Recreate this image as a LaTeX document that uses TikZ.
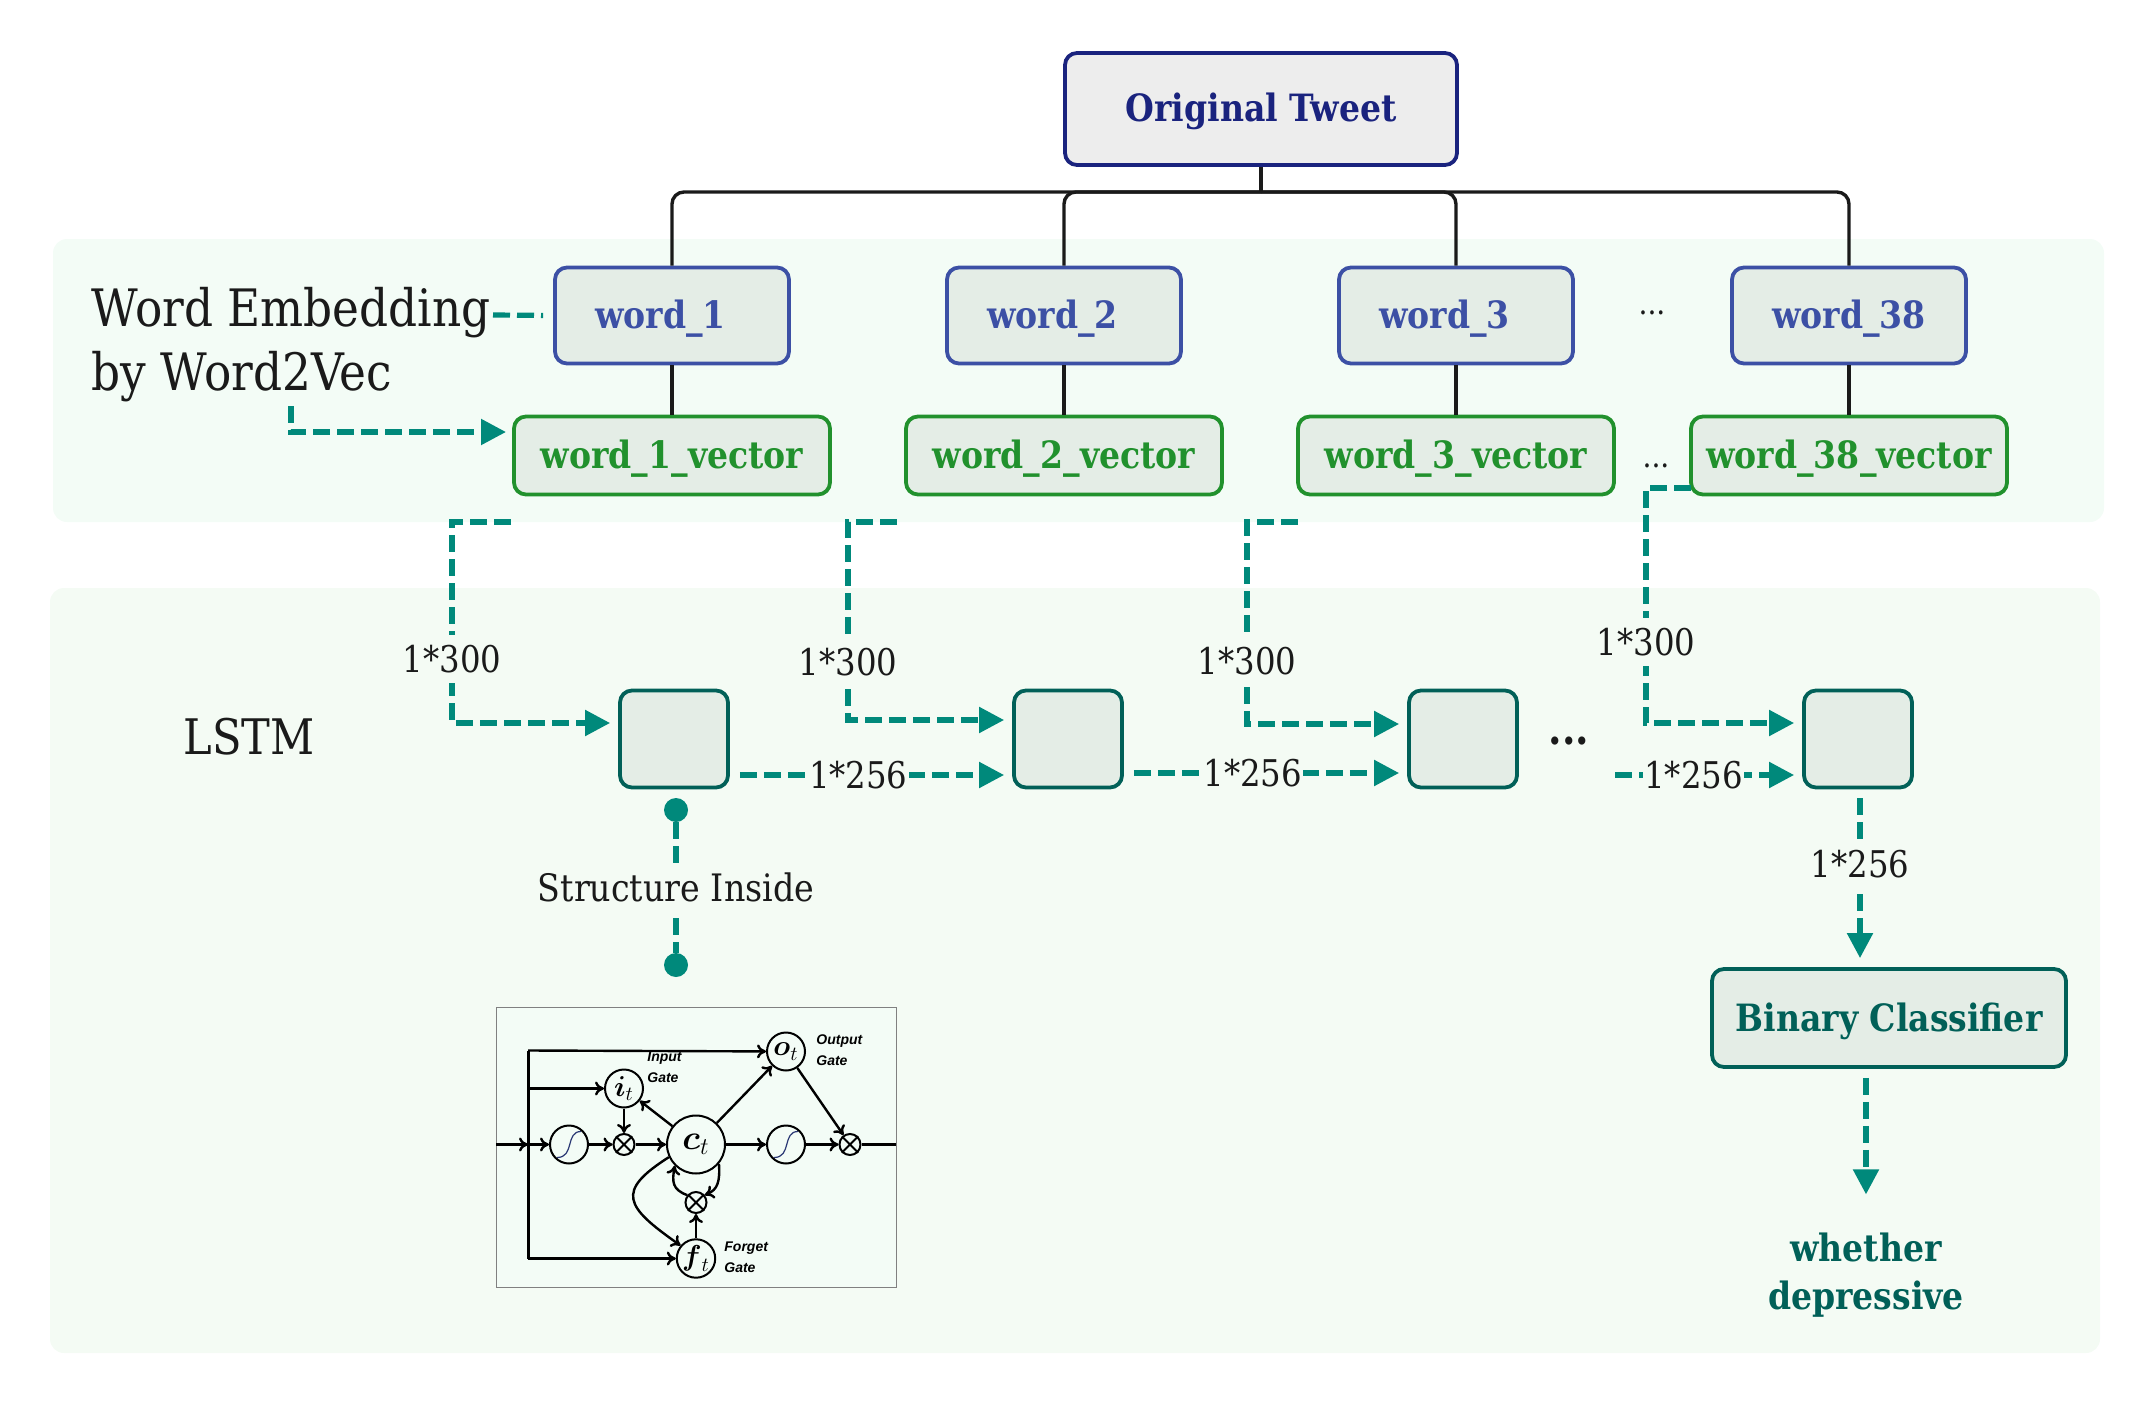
\documentclass[tikz,border=0pt]{standalone}
\usepackage{amsmath}
\usepackage{fontspec}
\setmainfont[FakeStretch=0.88]{DejaVu Serif}
\newfontfamily\gatefont{Liberation Sans}
\definecolor{colpanel}{RGB}{243,252,246}
\definecolor{colpanellow}{RGB}{244,251,244}
\definecolor{colbox}{RGB}{228,237,230}
\definecolor{colblue}{RGB}{60,80,165}
\definecolor{colgreen}{RGB}{33,145,45}
\definecolor{coldeep}{RGB}{1,96,88}
\definecolor{colnavy}{RGB}{26,35,126}
\definecolor{colflow}{RGB}{0,137,123}
\definecolor{coltext}{RGB}{26,26,26}
\usetikzlibrary{
	arrows.meta,
	positioning
}
\tikzset{
	>={Triangle[length=12.5pt,width=12.5pt]},
	panel/.style={fill=#1, rounded corners=7pt},
	boxtext/.style={text height=14pt, text depth=1pt, font=\bfseries\fontsize{18.8}{22}\selectfont},
	tweetnode/.style={draw=colnavy, fill=black!7, line width=1.9pt, rounded corners=6pt, minimum width=196pt, minimum height=56pt, text=colnavy, boxtext},
	wordnode/.style={draw=colblue, fill=colbox, line width=1.9pt, rounded corners=6pt, minimum width=117pt, minimum height=48pt, inner xsep=0pt, text width=77pt, align=left, text=colblue, boxtext},
	vectornode/.style={draw=colgreen, fill=colbox, line width=1.9pt, rounded corners=6pt, minimum width=158pt, minimum height=39pt, inner sep=0pt, text=colgreen, boxtext},
	cellnode/.style={draw=coldeep, fill=colbox, line width=1.9pt, rounded corners=6pt, minimum width=54pt, minimum height=48.5pt},
	classnode/.style={draw=coldeep, fill=colbox, line width=1.9pt, rounded corners=6pt, minimum width=177pt, minimum height=49pt, inner sep=0pt, text=coldeep, boxtext},
	treeline/.style={draw=coltext, line width=1.7pt},
	flowline/.style={draw=colflow, line width=2.6pt, dash pattern=on 8.5pt off 3.5pt},
	flowdot/.style={circle, fill=colflow, minimum size=12pt, inner sep=0pt},
	dimlabel/.style={fill=colpanellow, inner xsep=0.5pt, inner ysep=0pt, minimum height=24pt, text=coltext, font=\fontsize{18.4}{22}\selectfont},
	titlelabel/.style={text=coltext, inner sep=0pt, font=\fontsize{25.8}{32}\selectfont},
	dotslabel/.style={text=coltext, inner sep=0pt, font=\fontsize{16}{16}\selectfont},
	gatenode/.style={circle, draw=black, line width=1pt, minimum size=19pt, inner sep=0pt},
	timesnode/.style={circle, draw=black, line width=1pt, minimum size=10.5pt, inner sep=0pt},
	gateedge/.style={draw=black, line width=1.2pt, -{To[length=4.5pt,width=7pt]}},
	gatelabel/.style={anchor=west, inner sep=0pt, font=\gatefont\bfseries\itshape\fontsize{7}{8}\selectfont}
}
\begin{document}
\begin{tikzpicture}[x=0.5pt, y=-0.5pt]
	\useasboundingbox (0,0) rectangle (2154,1402);
	\fill[panel=colpanel] (53,239) rectangle (2104,522);
	\fill[panel=colpanellow] (50,588) rectangle (2100,1353);

	% tweet and the words
	\node[tweetnode] (tweet) at (1261,109) {Original Tweet};
	\coordinate (bus) at (1261,192);
	\draw[treeline] (tweet.south) -- (bus);
	\foreach \wordname/\wordx in {1/672,2/1064,3/1456,38/1849} {
		\node[wordnode] (word\wordname) at (\wordx,315.5) {word\_\wordname};
		\node[vectornode] (vector\wordname) at (\wordx,455.5) {word\_\wordname\_vector};
		\draw[treeline, rounded corners=6pt] (bus) -| (word\wordname.north);
		\draw[treeline] (word\wordname) -- (vector\wordname);
	}
	\node[dotslabel] (worddots) at (1652,313) {...};
	\node[dotslabel] (vectordots) at (1656,466) {...};
	\node[titlelabel, anchor=west] (embedtitle) at (91,313) {Word Embedding};
	\node[titlelabel, anchor=west] (embedsub) at (91,377) {by Word2Vec};
	\coordinate (embedout) at (493,315);
	\coordinate (embedbelow) at (291,406);
	\coordinate (embedvec) at (514,432);
	\draw[flowline, shorten >=5pt] (embedout) -- (word1.west);
	\draw[flowline, ->, shorten >=4pt] (embedbelow) |- (embedvec);

	% lstm row
	\node[titlelabel, font=\fontsize{24.5}{30}\selectfont] (lstm) at (249,737) {LSTM};
	\foreach \cellname/\cellx in {1/674,2/1068,3/1463,38/1858} {
		\node[cellnode] (cell\cellname) at (\cellx,739) {};
	}
	\node[dotslabel, font=\bfseries\fontsize{22}{22}\selectfont] (celldots) at (1569,741) {...};
	\foreach \d/\startx/\startline/\bendx/\bendy/\labely/\cellname in {1/511/522/452/723/659/1,2/897/522/848/720/662/2,3/1298/522/1247/724/661/3,4/1691/488/1646/723/642/38} {
		\coordinate (vecout\d) at (\startx,\startline);
		\coordinate (vecin\d) at (\bendx,\bendy);
		\draw[flowline, ->, shorten >=4pt] (vecout\d) -| (vecin\d) -- (vecin\d -| cell\cellname.west);
		\node[dimlabel] (dimin\d) at (\bendx,\labely) {1*300};
	}
	\coordinate (restout) at (1615,775);
	\draw[flowline, ->, shorten <=5pt, shorten >=4pt] ([yshift=-18pt]cell1.east) -- node[dimlabel, pos=0.455] (dimone) {1*256} ([yshift=-18pt]cell2.west);
	\draw[flowline, ->, shorten <=5pt, shorten >=4pt] ([yshift=-17pt]cell2.east) -- node[dimlabel, pos=0.455] (dimtwo) {1*256} ([yshift=-17pt]cell3.west);
	\draw[flowline, ->, shorten >=4pt] (restout) -- node[dimlabel, pos=0.42] (dimrest) {1*256} (restout -| cell38.west);

	% classifier
	\node[classnode] (classifier) at (1889,1018) {Binary Classifier};
	\node[align=center, inner sep=0pt, text=coldeep, font=\bfseries\fontsize{18.8}{24}\selectfont] (result) at (1866,1275) {whether\\depressive};
	\draw[flowline, ->, shorten <=4.5pt, shorten >=4.5pt] ([xshift=1pt]cell38.south) -- node[dimlabel, pos=0.42] (dimout) {1*256} ([xshift=1pt]cell38.south |- classifier.north);
	\draw[flowline, ->, shorten <=4.5pt, shorten >=19pt] (classifier.south -| result) -- (result.north);

	% structure inside
	\node[flowdot] (dottop) at (676,810) {};
	\node[flowdot] (dotbottom) at (676,965) {};
	\draw[flowline] (dottop) -- node[dimlabel, midway, font=\fontsize{18.9}{22}\selectfont] (insidelabel) {Structure Inside} (dotbottom);

	\begin{scope}[yshift=-0.75pt]
		\draw[black!50, fill=colpanel, line width=0.5pt] (496,1006) rectangle (896,1286);
		\node[gatenode, minimum size=29pt] (ct) at (696,1143) {\LARGE$\boldsymbol{c}_t$};
		\node[gatenode] (igate) at (624,1087) {\Large$\boldsymbol{i}_t$};
		\node[gatenode] (ogate) at (786,1050) {\Large$\boldsymbol{o}_t$};
		\node[gatenode] (fgate) at (696,1257) {\Large$\boldsymbol{f}_t$};
		\node[gatenode] (sigone) at (569,1143) {};
		\node[gatenode] (sigtwo) at (786,1143) {};
		\node[timesnode] (xa) at (624,1143) {};
		\node[timesnode] (xb) at (850,1143) {};
		\node[timesnode] (xc) at (696,1201) {};
		\foreach \gate in {xa,xb,xc} {
			\draw[black, line width=1pt] (\gate.45) -- (\gate.225) (\gate.135) -- (\gate.315);
		}
		\foreach \gate in {sigone,sigtwo} {
			\draw[colblue!70!black, line width=0.6pt] ([shift={(-12,13)}]\gate.center) .. controls ([shift={(6,13)}]\gate.center) and ([shift={(-4,-13)}]\gate.center) .. ([shift={(12,-13)}]\gate.center);
		}
		\coordinate (inleft) at (496,1143);
		\coordinate (outright) at (896,1143);
		\coordinate (bustop) at (528,1049);
		\coordinate (busgate) at (528,1087);
		\coordinate (busmid) at (528,1143);
		\coordinate (busbottom) at (528,1257);
		\draw[draw=black, line width=1.5pt] (bustop) -- (busbottom);
		\draw[gateedge] (bustop) -- (ogate);
		\draw[gateedge] (busgate) -- (igate);
		\draw[gateedge] (busbottom) -- (fgate);
		\draw[gateedge] (inleft) -- (busmid);
		\draw[gateedge] (busmid) -- (sigone);
		\draw[gateedge] (sigone) -- (xa);
		\draw[gateedge] (xa) -- (ct);
		\draw[gateedge] (igate) -- (xa);
		\draw[gateedge] (ct) -- (igate);
		\draw[gateedge] (ct) -- (ogate);
		\draw[gateedge] (ct) -- (sigtwo);
		\draw[gateedge] (sigtwo) -- (xb);
		\draw[gateedge] (ogate) -- (xb);
		\draw[draw=black, line width=1.2pt] (xb) -- (outright);
		\draw[gateedge] (fgate) -- (xc);
		\draw[gateedge] (ct.205) .. controls (615,1190) and (625,1205) .. (fgate.140);
		\draw[gateedge] (ct.320) .. controls (720,1180) and (718,1188) .. (xc.40);
		\draw[gateedge] (xc.140) .. controls (672,1188) and (672,1180) .. (ct.225);
		\node[gatelabel] (inputa) at (647,1057) {Input};
		\node[gatelabel] (inputb) at (647,1076) {Gate};
		\node[gatelabel] (outputa) at (816,1040) {Output};
		\node[gatelabel] (outputb) at (816,1059) {Gate};
		\node[gatelabel] (forgeta) at (724,1247) {Forget};
		\node[gatelabel] (forgetb) at (724,1266) {Gate};
	\end{scope}
\end{tikzpicture}
\end{document}
